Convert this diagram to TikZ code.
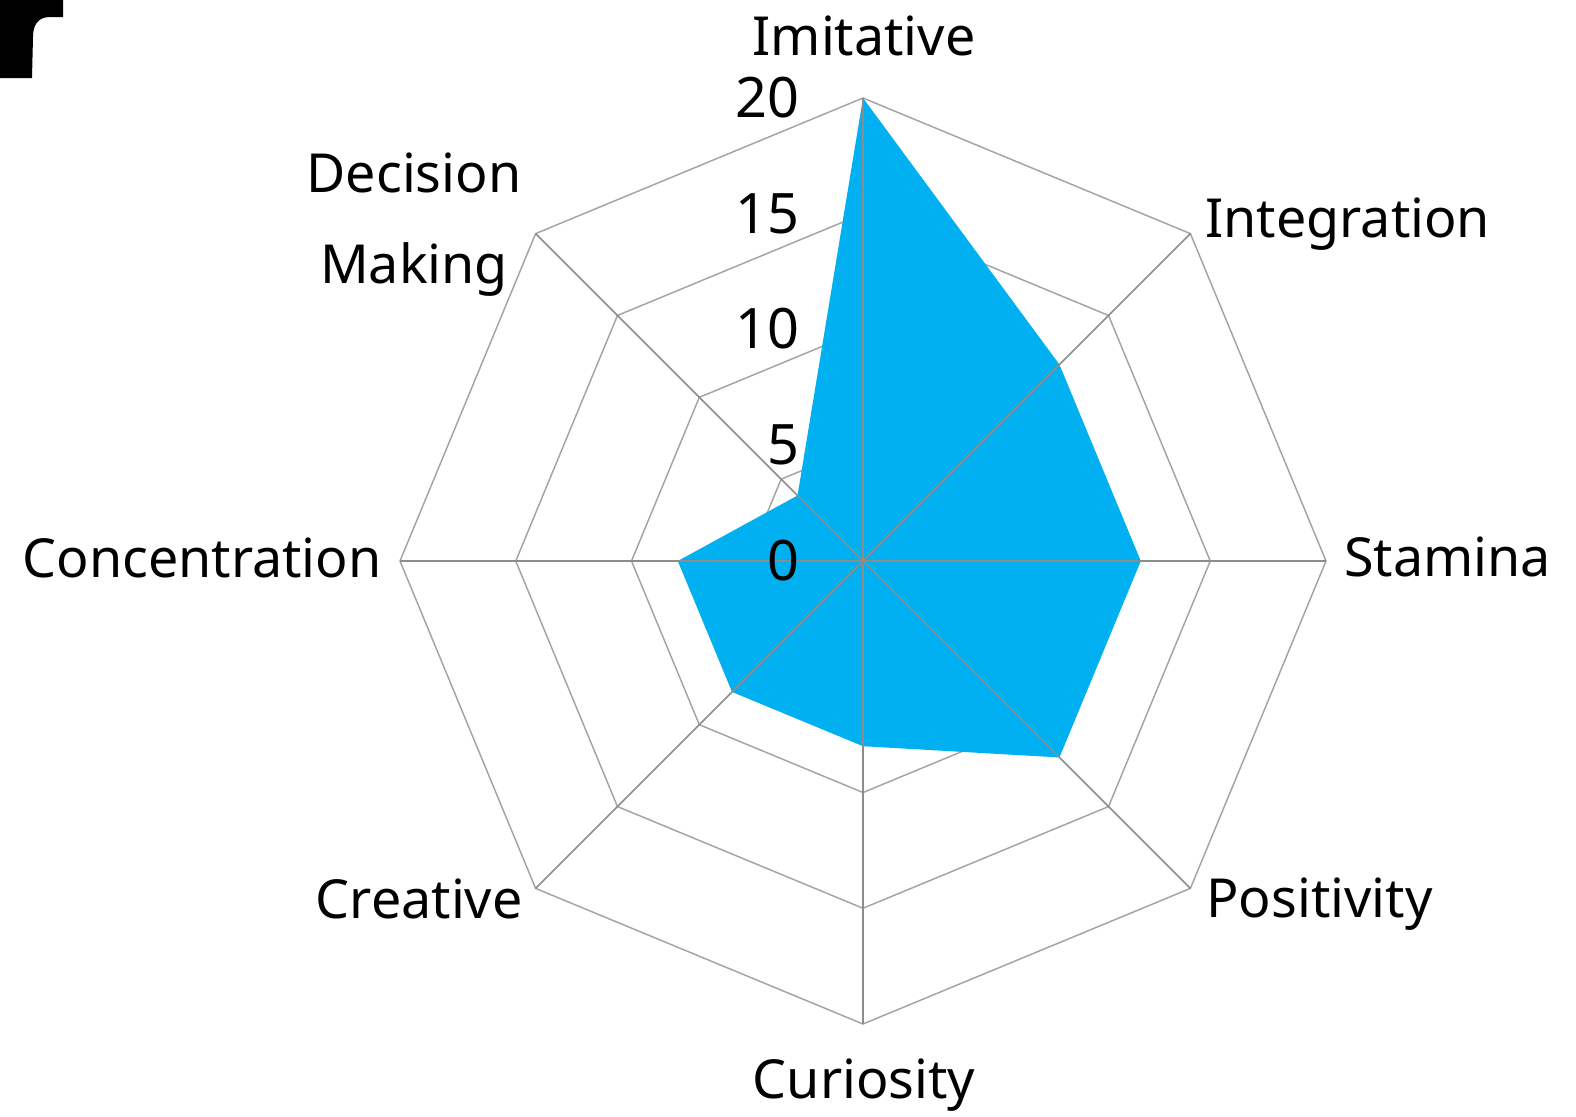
\documentclass[tikz,border=0pt]{standalone}
\usepackage{fontspec}
\setmainfont{Noto Sans}
\usetikzlibrary{calc}
\definecolor{fillblue}{RGB}{0,176,240}
\definecolor{ringgray}{RGB}{165,165,165}
\definecolor{spokegray}{RGB}{140,140,140}
\begin{document}
\begin{tikzpicture}[x=0.5bp,y=-0.5bp,
  lab/.style={inner sep=0pt,font=\fontsize{27}{33}\selectfont},
  num/.style={inner sep=0pt,font=\fontsize{28}{34}\selectfont},
  ring/.style={draw=ringgray,line width=0.75pt},
  spoke/.style={draw=spokegray,line width=0.75pt}]
\useasboundingbox (0,0) rectangle (1576,1116);
% corner fragment
\fill[black] (0,0) -- (63,0) -- (63,17) -- (50,17) .. controls (38,17) and (33,25) .. (33,37) -- (32,78) -- (0,78) -- cycle;
\coordinate (C) at (863,561);
% rings
\foreach \r in {115.75,231.5,347.25,463}{
  \draw[ring] ($(C)+(-90:\r)$) \foreach \a in {-45,0,45,90,135,180,225}{ -- ($(C)+(\a:\r)$)} -- cycle;
}
% data
\fill[fillblue] ($(C)+(-90:463)$) -- ($(C)+(-45:277.8)$) -- ($(C)+(0:277.8)$) -- ($(C)+(45:277.8)$)
  -- ($(C)+(90:185.2)$) -- ($(C)+(135:185.2)$) -- ($(C)+(180:185.2)$) -- ($(C)+(225:92.6)$) -- cycle;
% spokes
\foreach \a in {-90,-45,0,45,90,135,180,225}{
  \draw[spoke] (C) -- ($(C)+(\a:463)$);
}
% scale numbers
\node[num,anchor=east] (n20) at (800,98) {20};
\node[num,anchor=east] (n15) at (800,214) {15};
\node[num,anchor=east] (n10) at (800,329) {10};
\node[num,anchor=east] (n5) at (800,445) {5};
\node[num,anchor=east] (n0) at (800,561) {0};
% axis labels
\node[lab,anchor=base] (imi) at (864,55) {Imitative};
\node[lab,anchor=base west] (int) at (1205,237) {Integration};
\node[lab,anchor=base west] (sta) at (1344,576) {Stamina};
\node[lab,anchor=base west] (pos) at (1206,917) {Positivity};
\node[lab,anchor=base] (cur) at (864,1098) {Curiosity};
\node[lab,anchor=base east] (cre) at (523,918) {Creative};
\node[lab,anchor=base east] (con) at (382,577) {Concentration};
\node[lab,anchor=base] (dec1) at (414,192) {Decision};
\node[lab,anchor=base] (dec2) at (414,283) {Making};
\end{tikzpicture}
\end{document}
